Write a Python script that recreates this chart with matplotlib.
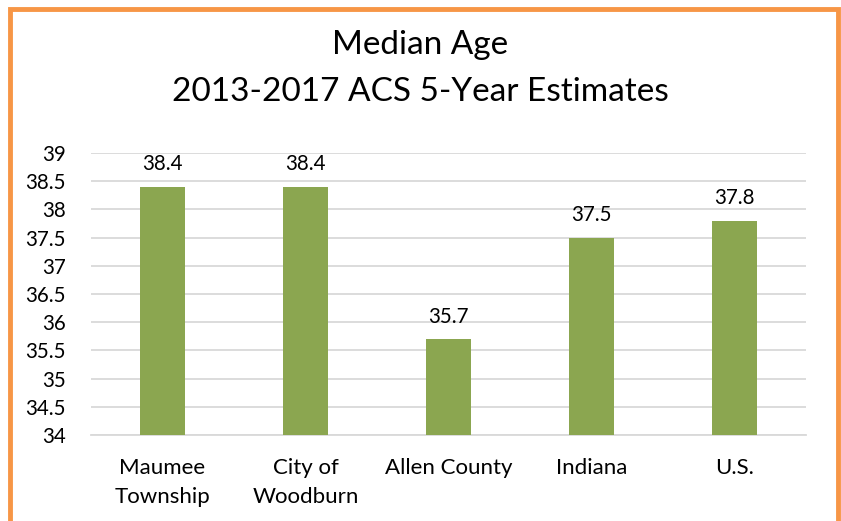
import matplotlib
matplotlib.use("Agg")
import matplotlib.pyplot as plt
from matplotlib.patches import Rectangle

places = ["Maumee\nTownship", "City of\nWoodburn", "Allen County", "Indiana", "U.S."]
median_age = [38.4, 38.4, 35.7, 37.5, 37.8]
yticks = [34, 34.5, 35, 35.5, 36, 36.5, 37, 37.5, 38, 38.5, 39]
ytick_labels = ["34", "34.5", "35", "35.5", "36", "36.5", "37", "37.5", "38", "38.5", "39"]

plt.rcParams["font.family"] = ["Lato", "DejaVu Sans"]

fig = plt.figure(figsize=(8.41, 5.21), dpi=100)
ax = fig.add_axes([91 / 841, 1 - 435 / 521, 715 / 841, 282 / 521])

x = range(len(places))
bars = ax.bar(x, median_age, width=0.315, color="#8BA650", zorder=3)
ax.set_xlim(-0.5, len(places) - 0.5)
ax.set_ylim(34, 39)
ax.set_yticks(yticks)
ax.set_yticklabels(ytick_labels)
ax.set_xticks(list(x))
ax.set_xticklabels(places, linespacing=1.55, fontsize=16)

for b, v in zip(bars, median_age):
    ax.annotate(f"{v}", (b.get_x() + b.get_width() / 2, v), xytext=(0, 9),
                textcoords="offset points", ha="center", va="bottom", fontsize=14.8)

ax.grid(axis="y", color="#D9D9D9", linewidth=1.3, zorder=0)
for s in ["top", "right", "left"]:
    ax.spines[s].set_visible(False)
ax.spines["bottom"].set_color("#D9D9D9")
ax.spines["bottom"].set_linewidth(1.3)
ax.tick_params(axis="both", length=0)
ax.tick_params(axis="y", labelsize=14.8, pad=18)
ax.tick_params(axis="x", pad=16.5)

fig.text(0.5, 1 - 45 / 521, "Median Age", ha="center", va="center", fontsize=24)
fig.text(0.5, 1 - 92 / 521, "2013-2017 ACS 5-Year Estimates", ha="center", va="center", fontsize=24)

# orange frame (bottom edge runs past the picture)
fig.patches.append(Rectangle((9.5 / 841, -0.05), 828 / 841, 1.05 - 9.5 / 521,
                             transform=fig.transFigure, fill=False,
                             edgecolor="#F79646", linewidth=3.5))

fig.savefig("out.png", dpi=100)
